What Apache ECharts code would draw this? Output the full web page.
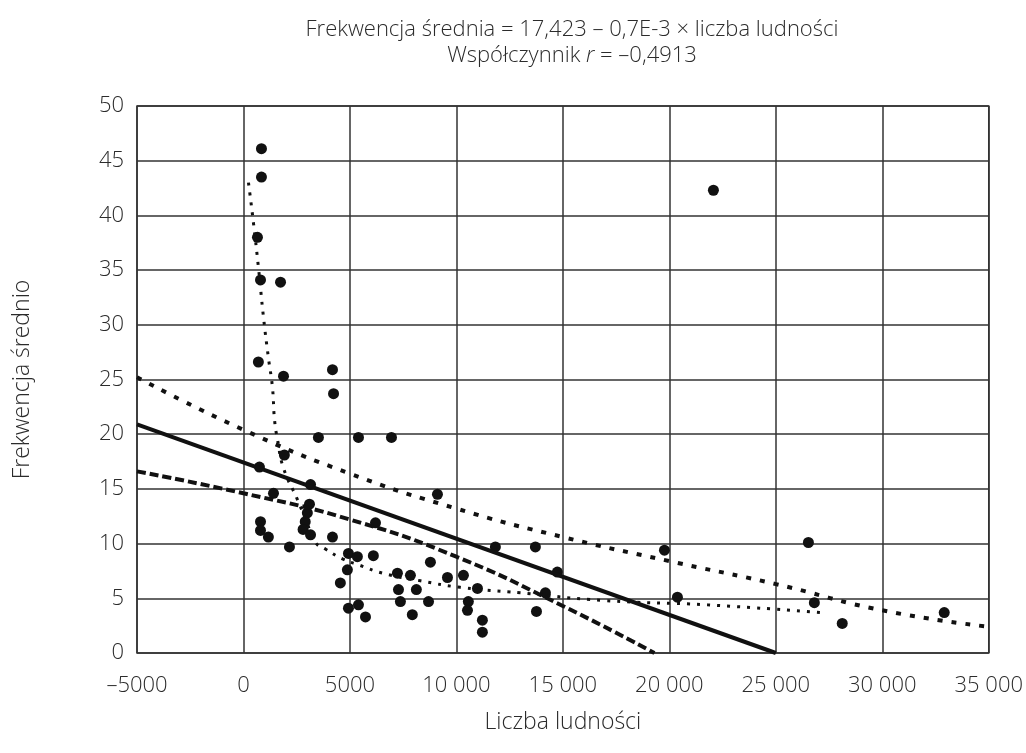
<!DOCTYPE html>
<html>
<head>
<meta charset="utf-8">
<script src="https://cdn.jsdelivr.net/npm/echarts@6/dist/echarts.min.js"></script>
<style>
    html, body { margin: 0; padding: 0; background: #fff; }
    #chart { width: 1026px; height: 753px; }
</style>
</head>
<body>
<div id="chart"></div>
<script>
// Dane: punkty (liczba ludności, frekwencja średnia)
const pointsX = [845, 845, 657, 800, 1740, 700, 1880, 4180, 4230, 3520, 5400, 6950,
    1920, 750, 3150, 1410, 800, 800, 3100, 3000, 2900, 2800, 1170, 3150, 4180, 2160,
    4930, 5350, 6100, 4880, 4550, 4930, 5400, 5730, 6200, 9110, 8780, 7230, 7840,
    7280, 8120, 7370, 8690, 7930, 9580, 10330, 10990, 10560, 10520, 11220, 11220,
    11830, 13710, 14180, 13760, 14740, 19770, 20380, 22070, 26530, 26810, 28120, 32910]
const pointsY = [46.1, 43.5, 38.0, 34.1, 33.9, 26.6, 25.3, 25.9, 23.7, 19.7, 19.7, 19.7,
    18.1, 17.0, 15.4, 14.6, 12.0, 11.2, 13.6, 12.8, 12.0, 11.3, 10.6, 10.8, 10.6, 9.7,
    9.1, 8.8, 8.9, 7.6, 6.4, 4.1, 4.4, 3.3, 11.9, 14.5, 8.3, 7.3, 7.1,
    5.8, 5.8, 4.7, 4.7, 3.5, 6.9, 7.1, 5.9, 4.7, 3.9, 3.0, 1.9,
    9.7, 9.7, 5.5, 3.8, 7.4, 9.4, 5.1, 42.3, 10.1, 4.6, 2.7, 3.7]

// linie trendu
const linearX = [-5000, 25000]
const linearY = [20.9, 0]
const upperX = [-5000, 0, 5000, 10000, 15000, 20000, 25000, 30000, 35000]
const upperY = [25.2, 20.4, 16.4, 13.2, 10.6, 8.4, 6.3, 3.9, 2.4]
const lowerX = [-5000, 0, 5000, 10000, 15000, 19300]
const lowerY = [16.6, 14.6, 12.2, 8.8, 4.3, 0]
const dottedX = [235, 470, 700, 940, 1170, 1360, 1460, 1600, 1880, 2540, 3000, 3380,
    3850, 4650, 5490, 6530, 8310, 10190, 13000, 16900, 21780, 27090]
const dottedY = [43, 39.3, 35.3, 30.7, 27, 24.3, 21.3, 19.5, 16.9, 14.0, 11.8, 10.1,
    9.5, 8.6, 8.0, 7.3, 6.6, 6.0, 5.5, 4.8, 4.4, 3.7]

const xTicks = [-5000, 0, 5000, 10000, 15000, 20000, 25000, 30000, 35000]
const xTickLabels = ['–5000', '0', '5000', '10 000', '15 000', '20 000', '25 000', '30 000', '35 000']

const zip = (xs, ys) => xs.map((x, i) => [x, ys[i]])

const font = 'Open Sans'
const textColor = '#2b2b2b'
const gridColor = '#333'

let myChart = echarts.init(document.getElementById('chart'))

let option = {
    animation: false,
    backgroundColor: '#fff',
    title: {
        text: 'Frekwencja średnia = 17,423 – 0,7E-3 × liczba ludności\nWspółczynnik {i|r} = –0,4913',
        left: 567,
        top: 12,
        textAlign: 'center',
        textStyle: {
            fontFamily: font,
            fontWeight: 300,
            fontSize: 22,
            color: textColor,
            lineHeight: 26,
            rich: {
                i: { fontFamily: font, fontWeight: 300, fontSize: 22, fontStyle: 'italic', color: textColor },
            },
        },
    },
    grid: {
        left: 137,
        right: 37,
        top: 106,
        bottom: 100,
        show: true,
        borderColor: gridColor,
        borderWidth: 1.5,
    },
    xAxis: {
        type: 'value',
        min: -5000,
        max: 35000,
        interval: 5000,
        name: 'Liczba ludności',
        nameLocation: 'middle',
        nameGap: 58,
        nameTextStyle: { fontFamily: font, fontWeight: 300, fontSize: 23, color: textColor },
        axisLine: { show: false },
        axisTick: { show: false },
        splitLine: { lineStyle: { color: gridColor, width: 1.5 } },
        axisLabel: {
            margin: 22,
            fontFamily: font,
            fontWeight: 300,
            fontSize: 22,
            color: textColor,
            formatter: (v) => xTickLabels[xTicks.indexOf(v)],
        },
    },
    yAxis: {
        type: 'value',
        min: 0,
        max: 50,
        interval: 5,
        name: 'Frekwencja średnio',
        nameLocation: 'middle',
        nameGap: 103,
        nameTextStyle: { fontFamily: font, fontWeight: 300, fontSize: 23, color: textColor },
        axisLine: { show: false },
        axisTick: { show: false },
        splitLine: { lineStyle: { color: gridColor, width: 1.5 } },
        axisLabel: {
            margin: 13,
            fontFamily: font,
            fontWeight: 300,
            fontSize: 22,
            color: textColor,
        },
    },
    series: [
        {
            type: 'line',
            data: zip(upperX, upperY),
            smooth: true,
            symbol: 'none',
            lineStyle: { color: '#111', width: 4, type: [5, 9] },
        },
        {
            type: 'line',
            data: zip(lowerX, lowerY),
            smooth: true,
            symbol: 'none',
            lineStyle: { color: '#111', width: 4, type: [9, 4] },
        },
        {
            type: 'line',
            data: zip(linearX, linearY),
            symbol: 'none',
            lineStyle: { color: '#111', width: 4 },
        },
        {
            type: 'line',
            data: zip(dottedX, dottedY),
            smooth: true,
            symbol: 'none',
            lineStyle: { color: '#111', width: 3, type: [3, 7] },
        },
        {
            type: 'scatter',
            data: zip(pointsX, pointsY),
            symbol: 'circle',
            symbolSize: 11,
            itemStyle: { color: '#111', opacity: 1 },
        },
    ],
}

myChart.setOption(option)
</script>
</body>
</html>
